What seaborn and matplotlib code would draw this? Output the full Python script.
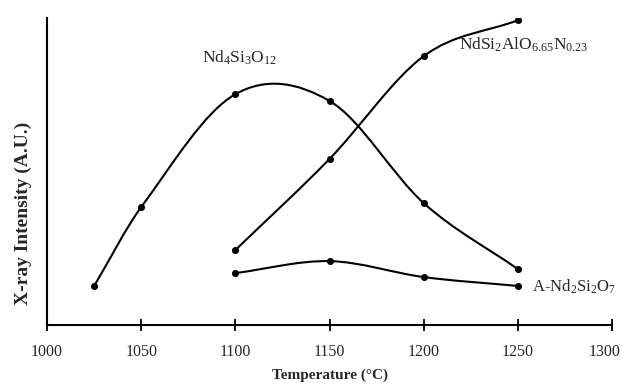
import numpy as np
import pandas as pd
import matplotlib
matplotlib.use("Agg")
import matplotlib.pyplot as plt
import matplotlib.transforms as mtransforms
from matplotlib.path import Path
from matplotlib.patches import PathPatch
import seaborn as sns

# values (intensity in arbitrary units, 0-100)
temp_nd4 = [1025, 1050, 1100, 1150, 1200, 1250]
int_nd4 = [12.7, 38.4, 75.2, 73.0, 39.7, 18.2]

temp_ndsi = [1100, 1150, 1200, 1250]
int_ndsi = [24.4, 54.1, 87.6, 99.3]

temp_a = [1100, 1150, 1200, 1250]
int_a = [16.9, 20.8, 15.6, 12.7]

x_ticks = [1000, 1050, 1100, 1150, 1200, 1250, 1300]


def smooth_path(xs, ys):
    # Catmull-Rom style bezier through the measured points (drawing only)
    xs = np.asarray(xs, float)
    ys = np.asarray(ys, float)
    n = len(xs)
    m = np.zeros(n)
    for i in range(n):
        if i == 0:
            m[i] = (ys[1] - ys[0]) / (xs[1] - xs[0])
        elif i == n - 1:
            m[i] = (ys[-1] - ys[-2]) / (xs[-1] - xs[-2])
        else:
            m[i] = (ys[i + 1] - ys[i - 1]) / (xs[i + 1] - xs[i - 1])
    verts = [(xs[0], ys[0])]
    codes = [Path.MOVETO]
    for i in range(n - 1):
        h = xs[i + 1] - xs[i]
        verts += [(xs[i] + h / 3, ys[i] + m[i] * h / 3),
                  (xs[i + 1] - h / 3, ys[i + 1] - m[i + 1] * h / 3),
                  (xs[i + 1], ys[i + 1])]
        codes += [Path.CURVE4] * 3
    return Path(verts, codes)


df = pd.concat([
    pd.DataFrame({"T": temp_nd4, "I": int_nd4, "phase": "nd4"}),
    pd.DataFrame({"T": temp_ndsi, "I": int_ndsi, "phase": "ndsi"}),
    pd.DataFrame({"T": temp_a, "I": int_a, "phase": "a"}),
])

sns.set_theme(style="white")
plt.rcParams["font.family"] = ["Liberation Serif", "DejaVu Serif"]
plt.rcParams["mathtext.fontset"] = "custom"
plt.rcParams["mathtext.rm"] = "Liberation Serif"
plt.rcParams["mathtext.it"] = "Liberation Serif"

fig = plt.figure(figsize=(6.22, 3.85), dpi=100)
ax = fig.add_axes([0.0756, 0.156, 0.9084, 0.797])

for ph, g in df.groupby("phase", sort=False):
    ax.add_patch(PathPatch(smooth_path(g["T"], g["I"]), facecolor="none",
                           edgecolor="black", lw=1.5, zorder=2))

sns.scatterplot(data=df, x="T", y="I", color="black", s=26, edgecolor="black",
                linewidth=0, ax=ax, zorder=3, legend=False)

ax.set_xlim(1000, 1300)
ax.set_ylim(0, 100)
ax.set_xticks(x_ticks)
ax.set_xticklabels([str(t) for t in x_ticks], fontsize=11.5)
ax.set_yticks([])
ax.tick_params(axis="x", bottom=True, direction="inout", length=9, width=1.3,
               color="black", pad=9)
# last label sits a little left of its tick so it stays inside the figure
last = ax.get_xticklabels()[-1]
last.set_transform(last.get_transform() +
                   mtransforms.ScaledTranslation(-7 / 100, 0, fig.dpi_scale_trans))

for s in ["top", "right"]:
    ax.spines[s].set_visible(False)
for s in ["left", "bottom"]:
    ax.spines[s].set_color("black")
    ax.spines[s].set_linewidth(1.5)

ax.set_xlabel("Temperature (°C)", fontsize=11, fontweight="bold", labelpad=6)
ax.set_ylabel("")
fig.text(0.037, 0.447, "X-ray Intensity (A.U.)", rotation=90, ha="center", va="center",
         fontsize=14, fontweight="bold")

ax.text(1102.4, 87, r"Nd$_4$Si$_3$O$_{12}$", ha="center", va="center", fontsize=12.5)
ax.text(1219, 91.2, r"NdSi$_2$AlO$_{6.65}$N$_{0.23}$", ha="left", va="center", fontsize=12.5)
ax.text(1257.4, 12.4, r"A-Nd$_2$Si$_2$O$_7$", ha="left", va="center", fontsize=12)

fig.savefig("out.png", dpi=100)
